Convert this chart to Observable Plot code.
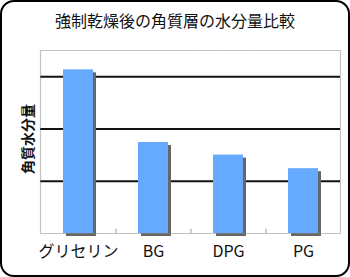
<!DOCTYPE html>
<html>
<head>
<meta charset="utf-8">
<script src="https://cdn.jsdelivr.net/npm/d3@7"></script>
<script src="https://cdn.jsdelivr.net/npm/@observablehq/plot@0.6"></script>
<style>
  html, body { margin: 0; padding: 0; background: #fff; }
  #wrap { position: relative; width: 350px; height: 277px; font-family: "Noto Sans CJK JP", sans-serif; }
  #border { position: absolute; left: 0; top: 0; width: 350px; height: 277px; box-sizing: border-box; border: 2px solid #000; border-radius: 14px; pointer-events: none; }
  #title { position: absolute; left: 0; top: 8px; width: 350px; text-align: center; font-size: 16px; color: #111; }
  #ylabel { position: absolute; left: 27px; top: 139px; transform: translate(-50%, -50%) rotate(-90deg); font-size: 14px; font-weight: bold; color: #111; white-space: nowrap; }
  #chart { position: absolute; left: 0; top: 0; }
</style>
</head>
<body>
<div id="wrap">
  <div id="chart"></div>
  <div id="title">強制乾燥後の角質層の水分量比較</div>
  <div id="ylabel"></div>
  <div id="border"></div>
</div>
<script>
const categories = ["グリセリン", "BG", "DPG", "PG"];
const values = [3.13, 1.74, 1.5, 1.24];
const gridValues = [1, 2, 3];
const yLabel = "角質水分量";

const data = categories.map((c, i) => ({category: c, value: values[i]}));
document.getElementById("ylabel").textContent = yLabel;

const chart = Plot.plot({
  width: 350,
  height: 277,
  marginLeft: 40,
  marginRight: 10,
  marginTop: 50,
  marginBottom: 44,
  style: {background: "transparent", fontFamily: "'Noto Sans CJK JP', sans-serif", overflow: "visible"},
  x: {domain: categories, paddingInner: 0.6, paddingOuter: 0.3, label: null},
  y: {domain: [0, 3.5], label: null},
  marks: [
    Plot.ruleY(gridValues, {stroke: "#111", strokeWidth: 2}),
    Plot.ruleX(categories.slice(1), {x: d => d, dx: -37.5, y1: 0, y2: 0.08, stroke: "#999", strokeWidth: 1}),
    Plot.barY(data, {x: "category", y: "value", fill: "#666", dx: 3, dy: 3}),
    Plot.barY(data, {x: "category", y: "value", fill: "#66aaff"}),
    Plot.frame({stroke: "#888", strokeDasharray: "1,1", strokeWidth: 1.2}),
    Plot.axisX({tickSize: 0, tickPadding: 12, fontSize: 16, fill: "#111", label: null}),
    Plot.axisY({ticks: [], label: null})
  ]
});
document.getElementById("chart").appendChild(chart);
</script>
</body>
</html>
